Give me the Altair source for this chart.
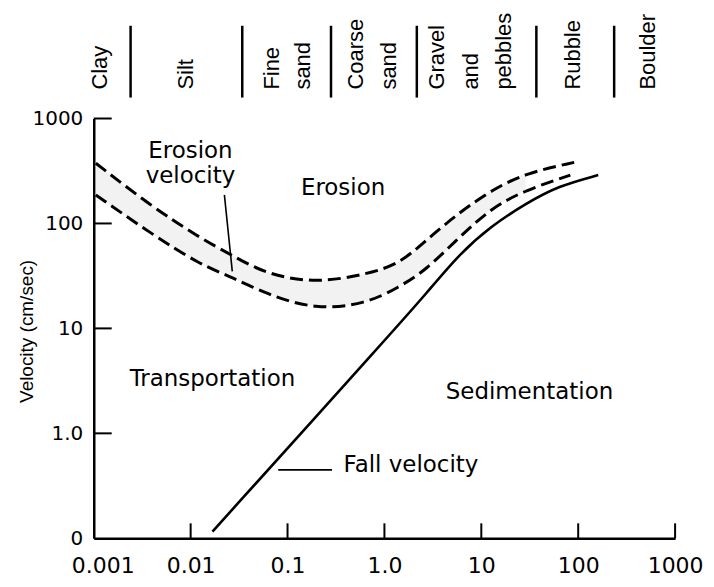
import altair as alt
import pandas as pd

# ---------------- data ----------------
x_ticks = [0.001, 0.01, 0.1, 1, 10, 100, 1000]
x_tick_labels = ["0.001", "0.01", "0.1", "1.0", "10", "100", "1000"]
y_ticks = [0.1, 1, 10, 100, 1000]
y_tick_labels = ["0", "1.0", "10", "100", "1000"]

# erosion velocity band (grain size mm, velocity cm/s)
upper_x = [0.00105, 0.00377, 0.01233, 0.0270, 0.0603, 0.197, 0.645, 1.41, 2.67, 5.85, 12.8, 28.6, 93.5]
upper_y = [375, 150, 73.3, 49.5, 32.8, 26.9, 32.8, 40.7, 68.7, 126, 208, 302, 384]
lower_x = [0.00105, 0.00377, 0.01233, 0.0270, 0.0603, 0.197, 0.645, 1.41, 2.67, 5.85, 12.8, 28.6, 83.0]
lower_y = [187, 81.8, 40.7, 30.7, 21.2, 15.0, 17.1, 24.7, 35.7, 73.3, 141, 208, 289]

# fall velocity
fall_x = [0.0168, 1.34, 2.67, 5.85, 12.8, 28.6, 62.5, 161]
fall_y = [0.116, 10.3, 21.2, 50.6, 95.3, 154, 228, 289]

# grain-size classes along the top
cat_labels = ["Clay", "Silt", "Fine", "sand", "Coarse", "sand", "Gravel", "and", "pebbles", "Rubble", "Boulder"]
cat_x = [0.00115, 0.00906, 0.0695, 0.145, 0.509, 1.11, 3.47, 7.76, 17.0, 89, 527]
sep_x = [0.0024, 0.0341, 0.281, 2.16, 37, 235]

# annotations
ann_text = ["Erosion", "velocity", "Erosion", "Transportation", "Sedimentation", "Fall velocity"]
ann_x = [0.00996, 0.00996, 0.374, 0.0168, 31.4, 1.88]
ann_y = [419, 243, 187, 2.80, 2.11, 0.43]

lead_x = [0.0801, 0.0223]
lead_x2 = [0.288, 0.0269]
lead_y = [0.449, 187]
lead_y2 = [0.449, 35.0]

# ---------------- frames ----------------
n_band = 12
band_df = pd.DataFrame({"x": upper_x[:n_band], "hi": upper_y[:n_band], "lo": lower_y[:n_band]})
curves_df = pd.concat([
    pd.DataFrame({"x": upper_x, "y": upper_y, "curve": "upper"}),
    pd.DataFrame({"x": lower_x, "y": lower_y, "curve": "lower"}),
])
fall_df = pd.DataFrame({"x": fall_x, "y": fall_y})
cat_df = pd.DataFrame({"label": cat_labels, "x": cat_x})
sep_df = pd.DataFrame({"x": sep_x})
ann_df = pd.DataFrame({"label": ann_text, "x": ann_x, "y": ann_y})
lead_df = pd.DataFrame({"x": lead_x, "x2": lead_x2, "y": lead_y, "y2": lead_y2})
xt_df = pd.DataFrame({"x": x_ticks[1:]})
yt_df = pd.DataFrame({"y": y_ticks[1:]})

W, H = 583, 421
HFONT = "DejaVu Sans"
VFONT = "Liberation Sans"


def label_expr(vals, labs):
    expr = "''"
    for v, l in reversed(list(zip(vals, labs))):
        expr = f"(abs(datum.value - {v}) < {v * 0.01}) ? '{l}' : " + expr
    return expr


xscale = alt.Scale(type="log", domain=[0.001, 1000], nice=False)
yscale = alt.Scale(type="log", domain=[0.1, 1000], nice=False)

x_axis = alt.Axis(
    values=x_ticks, labelExpr=label_expr(x_ticks, x_tick_labels), ticks=False, grid=False,
    domainColor="black", domainWidth=2.5, labelFont=HFONT, labelFontSize=22, labelColor="black",
    labelPadding=17, labelFlush=False, labelOverlap=False, title=None,
    labelOffset={"condition": {"test": "datum.value < 0.002", "value": 9}, "value": 0},
)
y_axis = alt.Axis(
    values=y_ticks, labelExpr=label_expr(y_ticks, y_tick_labels), ticks=False, grid=False,
    domainColor="black", domainWidth=2.5, labelFont=HFONT, labelFontSize=20, labelColor="black",
    labelPadding=11, labelFlush=False, labelOverlap=False,
    title="Velocity  (cm/sec)", titleFont=VFONT, titleFontSize=19, titleFontWeight="normal",
    titleColor="black", titleAngle=270, titleAlign="center", titleBaseline="middle",
    titleX=-67, titleY=213,
)


def X(field="x"):
    return alt.X(f"{field}:Q", scale=xscale, axis=x_axis)


def Y(field="y"):
    return alt.Y(f"{field}:Q", scale=yscale, axis=y_axis)


band = alt.Chart(band_df).mark_area(color="#f2f2f2", interpolate="basis").encode(
    x=X(), y=Y("lo"), y2="hi:Q",
)

curves = alt.Chart(curves_df).mark_line(
    color="black", strokeWidth=3, strokeDash=[13, 6], interpolate="basis"
).encode(
    x=X(), y=Y(), detail="curve:N",
)

fall = alt.Chart(fall_df).mark_line(color="black", strokeWidth=2.6, interpolate="basis").encode(
    x=X(), y=Y(),
)

xticks = alt.Chart(xt_df).mark_rule(color="black", strokeWidth=2).encode(
    x=X(), y=alt.value(H), y2=alt.value(H - 15),
)
yticks = alt.Chart(yt_df).mark_rule(color="black", strokeWidth=2).encode(
    y=Y(), x=alt.value(0), x2=alt.value(18),
)

cats = alt.Chart(cat_df).mark_text(
    angle=270, align="left", baseline="middle", font=VFONT, fontSize=22, color="black"
).encode(
    x=X(), y=alt.value(-29), text="label:N",
)
seps = alt.Chart(sep_df).mark_rule(color="black", strokeWidth=2.5).encode(
    x=X(), y=alt.value(-93), y2=alt.value(-21),
)

anns = alt.Chart(ann_df).mark_text(
    align="center", baseline="alphabetic", font=HFONT, fontSize=23, color="black"
).encode(
    x=X(), y=Y(), text="label:N",
)
leads = alt.Chart(lead_df).mark_rule(color="black", strokeWidth=1.6).encode(
    x=X(), x2="x2:Q", y=Y(), y2="y2:Q",
)

chart = alt.layer(band, curves, fall, xticks, yticks, seps, cats, anns, leads).properties(
    width=W, height=H,
    autosize=alt.AutoSizeParams(type="none"),
    padding={"left": 86, "top": 110, "right": 31, "bottom": 40},
    background="white",
).configure_view(stroke=None)

chart.save("out.html", embed_options={"renderer": "svg", "actions": False})
